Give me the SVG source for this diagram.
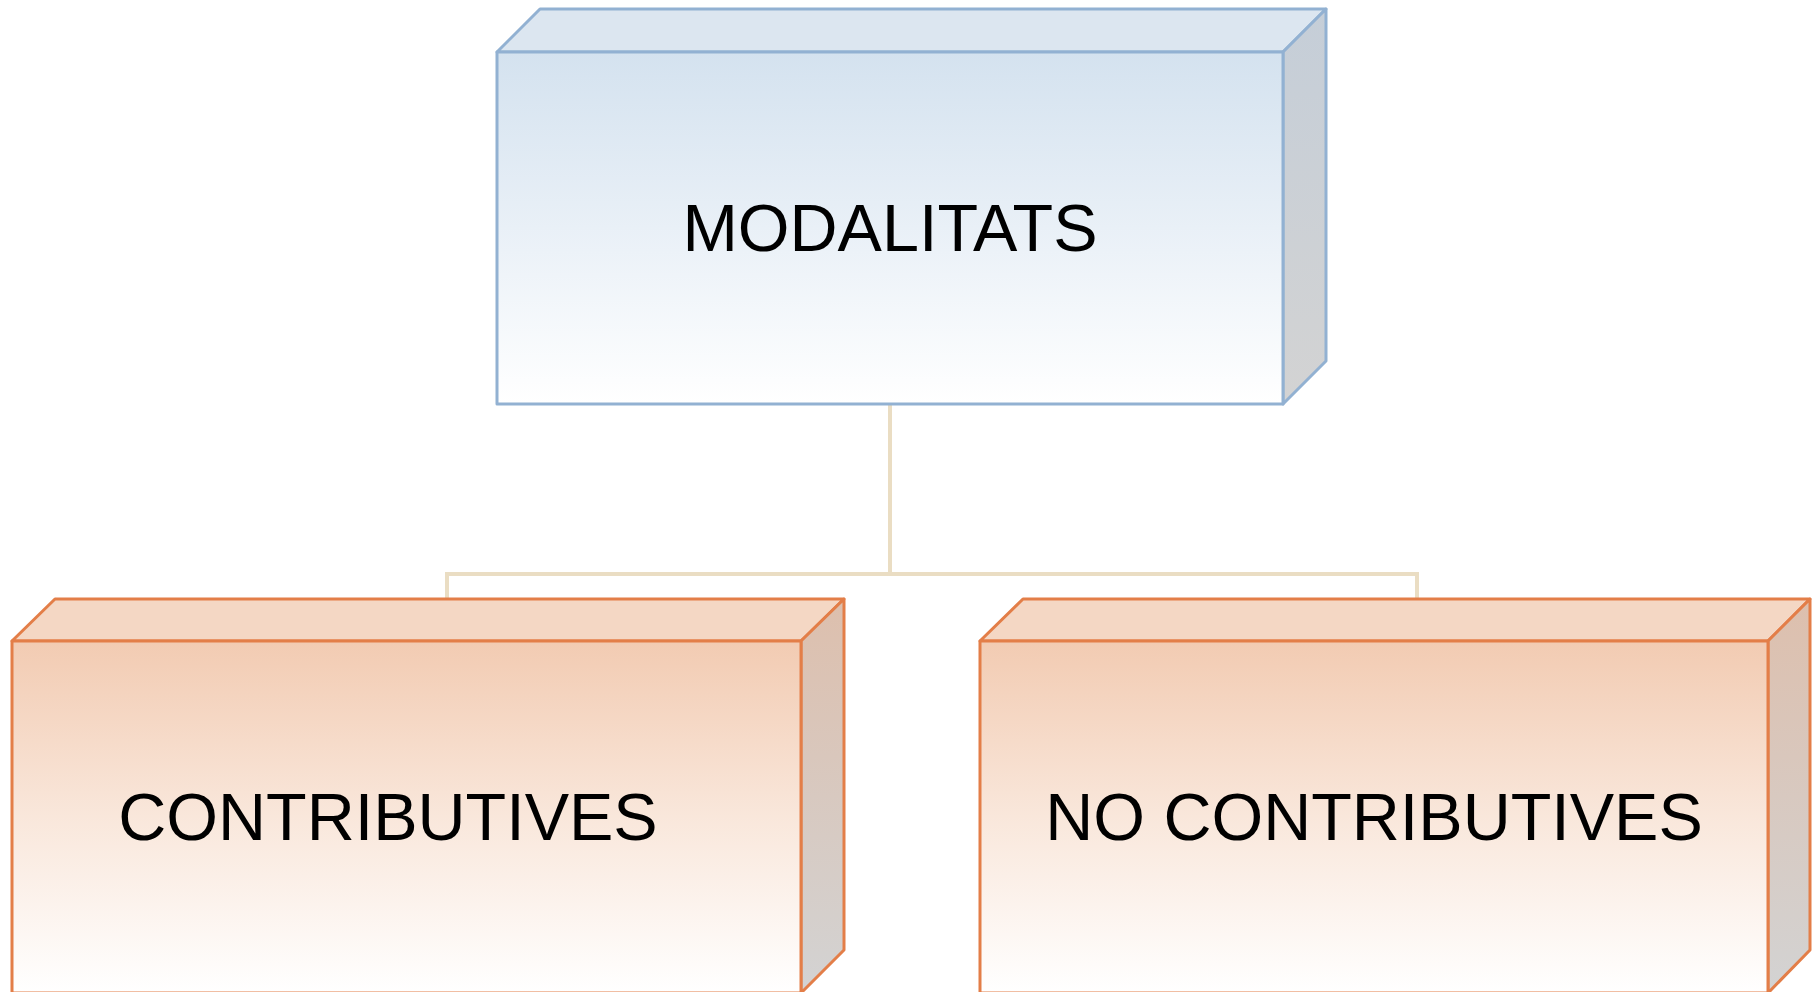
<svg xmlns="http://www.w3.org/2000/svg" width="1812" height="992" viewBox="0 0 1812 992">
<defs>
<linearGradient id="gBlue" x1="0" y1="0" x2="0" y2="1">
<stop offset="0" stop-color="#D4E2EF"/>
<stop offset="0.5" stop-color="#E9F0F7"/>
<stop offset="1" stop-color="#FFFFFF"/>
</linearGradient>
<linearGradient id="gBlueSide" x1="0" y1="0" x2="0" y2="1">
<stop offset="0" stop-color="#C5CED8"/>
<stop offset="1" stop-color="#D3D3D3"/>
</linearGradient>
<linearGradient id="gOr" x1="0" y1="0" x2="0" y2="1">
<stop offset="0" stop-color="#F2CBB2"/>
<stop offset="0.5" stop-color="#F9E7DB"/>
<stop offset="1" stop-color="#FFFFFF"/>
</linearGradient>
<linearGradient id="gOrSide" x1="0" y1="0" x2="0" y2="1">
<stop offset="0" stop-color="#DDBFAD"/>
<stop offset="1" stop-color="#D3D3D3"/>
</linearGradient>
</defs>
<style>
.bl{stroke:#92B1D2;stroke-width:3;stroke-linejoin:round}
.or{stroke:#E37E48;stroke-width:3;stroke-linejoin:round}
.conn{fill:none;stroke:#EADDC3;stroke-width:4}
text{font-family:"Liberation Sans",Arial,sans-serif;fill:#000;text-anchor:middle;font-size:66.5px}
</style>
<rect width="1812" height="992" fill="#FFFFFF"/>
<g id="connectors">
<path class="conn" d="M890 404 V574 M447 574 H1417 M447 572 V600 M1417 572 V600"/>
</g>
<g id="modalitats">
<polygon class="bl" points="497,52 540,9 1326,9 1283,52" fill="#DCE6F0"/>
<polygon class="bl" points="1283,52 1326,9 1326,361 1283,404" fill="url(#gBlueSide)"/>
<rect class="bl" x="497" y="52" width="786" height="352" fill="url(#gBlue)"/>
<text x="890" y="251">MODALITATS</text>
</g>
<g id="contributives">
<polygon class="or" points="12,641 55,599 844,599 801,641" fill="#F4D7C4"/>
<polygon class="or" points="801,641 844,599 844,950 801,993" fill="url(#gOrSide)"/>
<rect class="or" x="12" y="641" width="789" height="352" fill="url(#gOr)"/>
<text x="388" y="840">CONTRIBUTIVES</text>
</g>
<g id="no-contributives">
<polygon class="or" points="980,641 1023,599 1810,599 1768,641" fill="#F4D7C4"/>
<polygon class="or" points="1768,641 1810,599 1810,950 1768,993" fill="url(#gOrSide)"/>
<rect class="or" x="980" y="641" width="788" height="352" fill="url(#gOr)"/>
<text x="1374" y="840">NO CONTRIBUTIVES</text>
</g>
</svg>
